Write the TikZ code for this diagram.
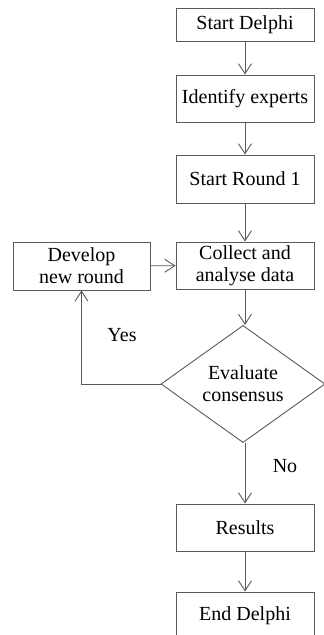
\documentclass[tikz,border=0pt]{standalone}
\usepackage{fontspec}
\setmainfont{Liberation Serif}
\usetikzlibrary{arrows.meta,shapes.geometric}
\definecolor{edge}{HTML}{5A5A5A}
\begin{document}
\begin{tikzpicture}[x=1pt,y=-1pt,
  font=\fontsize{20}{22}\selectfont,
  box/.style={draw=edge,line width=0.9pt,fill=white,inner sep=0pt,
    minimum width=138pt,minimum height=47pt,align=center},
  decision/.style={draw=edge,line width=0.9pt,fill=white,diamond,inner sep=0pt,
    minimum width=164pt,minimum height=90pt,align=center},
  flow/.style={draw=edge,line width=0.9pt,-{Straight Barb[length=10pt,width=13pt]}},
  lbl/.style={inner sep=0pt}]
\useasboundingbox (0,0) rectangle (324,635);
\begin{scope}
\clip (0,0) rectangle (324,635);
% main column
\node[box,minimum height=33pt] (start) at (245,24.5) {Start Delphi};
\node[box] (experts) at (245,98.5) {Identify experts};
\node[box,minimum height=48pt] (round) at (245,179) {Start Round 1};
\node[box] (collect) at (245,265.5) {Collect and\\analyse data};
\node[box,minimum width=137pt,minimum height=48pt] (develop) at (81.5,266) {Develop\\new round};
\node[decision] (eval) at (243,384) {Evaluate\\consensus};
\node[box] (results) at (245,527.5) {Results};
\node[box] (finish) at (245,615.5) {End Delphi};
% connectors
\draw[flow] (start) -- (experts);
\draw[flow] (experts) -- (round);
\draw[flow] (round) -- (collect);
\draw[flow] (develop) -- (collect);
\draw[flow] (collect.south) -- (collect.south |- eval.north);
\draw[flow] (results.north |- eval.south) -- (results);
\draw[flow] (results) -- (finish);
\draw[flow] (eval.west) -| (develop.south);
% branch labels
\node[lbl] (yes) at (122,335) {Yes};
\node[lbl] (no) at (285,466) {No};
\end{scope}
\end{tikzpicture}
\end{document}
